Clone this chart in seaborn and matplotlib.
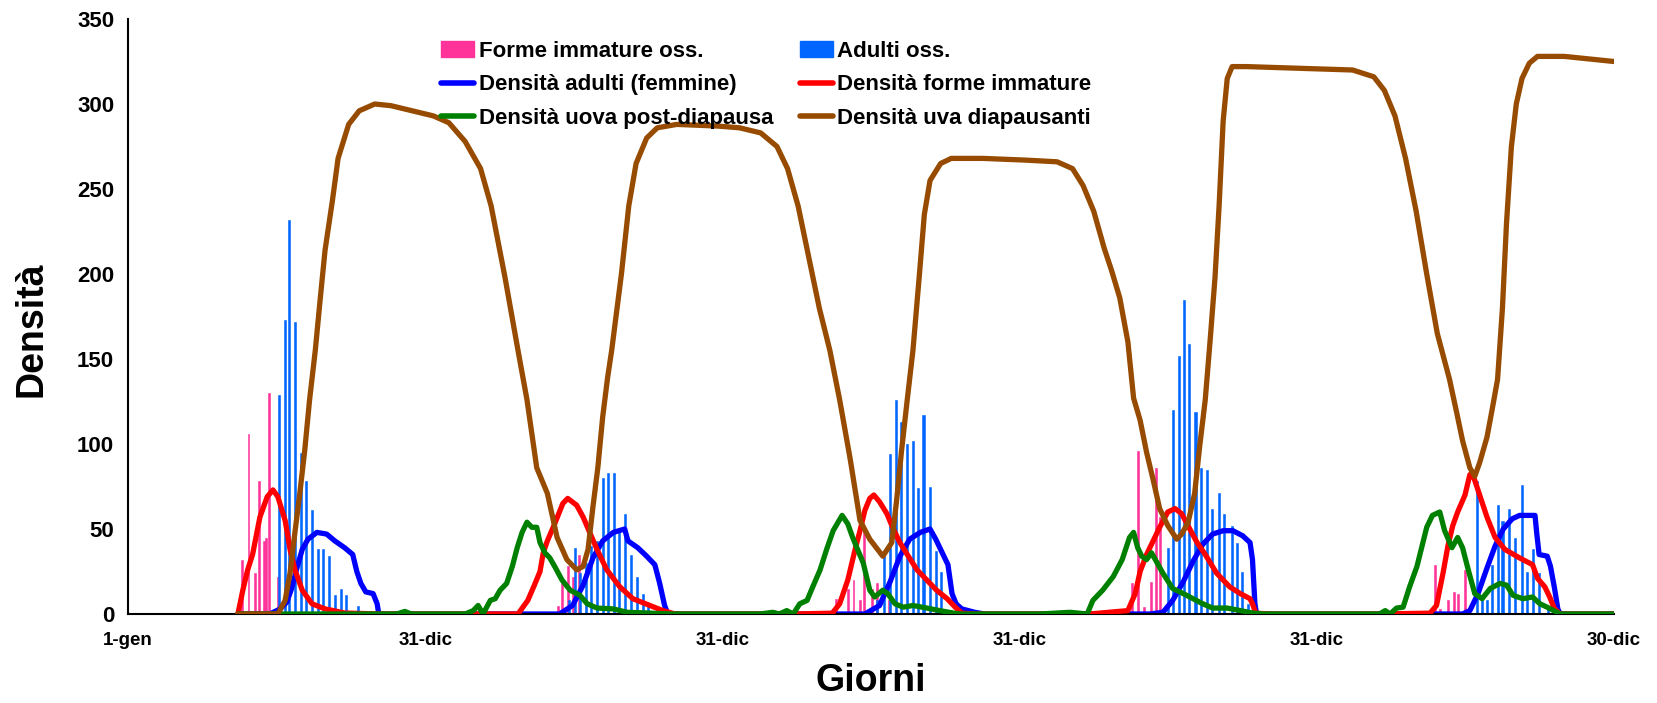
import numpy as np
import pandas as pd
import matplotlib
matplotlib.use('Agg')
import matplotlib.pyplot as plt
import matplotlib.patches as mpatches
from matplotlib.lines import Line2D
from matplotlib import font_manager
import seaborn as sns

# ---- data (day index from 1-gen of year 1, value) ----
pink_bars = [(135, 5), (140, 32), (148, 106), (156, 24), (161, 78), (167, 43), (169, 45), (173, 130), (184, 22),
             (528, 5), (533, 18), (540, 28), (546, 22), (554, 35),
             (869, 9), (884, 15), (891, 20), (899, 8), (904, 49), (914, 15), (920, 18), (934, 8),
             (1233, 18), (1240, 96), (1248, 4), (1256, 19), (1262, 86), (1267, 57),
             (1605, 29), (1611, 3), (1621, 8), (1628, 13), (1633, 12), (1642, 26)]

blue_bars = [(185, 129), (193, 173), (198, 232), (205, 172), (212, 95), (219, 78), (226, 61), (233, 38),
             (240, 38), (247, 34), (254, 11), (262, 15), (268, 11), (282, 5),
             (542, 8), (549, 39), (555, 24), (562, 30), (569, 40), (576, 43), (583, 80), (589, 83),
             (597, 83), (603, 50), (610, 59), (618, 35), (625, 22), (632, 12), (639, 5),
             (920, 8), (928, 34), (936, 94), (943, 126), (949, 113), (957, 100), (964, 102), (970, 74),
             (977, 117), (985, 75), (992, 37), (998, 25),
             (1277, 39), (1283, 120), (1291, 152), (1297, 185), (1303, 159), (1311, 119), (1318, 86),
             (1325, 85), (1331, 62), (1340, 71), (1346, 59), (1356, 52), (1362, 42), (1368, 25), (1375, 6),
             (1657, 78), (1663, 10), (1669, 8), (1675, 29), (1682, 64), (1688, 55), (1696, 62), (1703, 45),
             (1712, 76), (1718, 25), (1725, 38), (1733, 24), (1744, 5)]

adulti = [(135, 0), (174, 0), (187, 3), (195, 7), (201, 15), (208, 28), (214, 38), (221, 44), (232, 48),
          (244, 47), (254, 43), (266, 39), (276, 35), (281, 25), (286, 18), (292, 13), (301, 12), (306, 6),
          (308, 0), (530, 0), (546, 5), (559, 17), (571, 33), (583, 43), (596, 48), (610, 50), (614, 43),
          (626, 39), (637, 34), (647, 29), (653, 18), (659, 5), (663, 0), (905, 0), (923, 5), (936, 19),
          (948, 34), (960, 44), (973, 48), (985, 50), (992, 44), (1001, 35), (1007, 29), (1012, 12),
          (1017, 6), (1024, 3), (1040, 1), (1052, 0), (1255, 0), (1271, 1), (1283, 8), (1296, 19),
          (1308, 31), (1320, 41), (1332, 47), (1345, 49), (1357, 49), (1369, 46), (1378, 42), (1381, 32),
          (1384, 6), (1386, 0), (1639, 0), (1648, 2), (1658, 12), (1669, 27), (1679, 40), (1689, 50),
          (1700, 56), (1709, 58), (1728, 58), (1730, 48), (1733, 35), (1743, 34), (1747, 28), (1752, 15),
          (1756, 3), (1759, 0), (1825, 0)]

immature = [(135, 0), (141, 14), (147, 26), (153, 35), (162, 57), (171, 69), (178, 73), (184, 69), (193, 55),
            (199, 38), (205, 26), (214, 14), (226, 6), (242, 3), (266, 0.6), (309, 0), (479, 0), (491, 8),
            (500, 18), (506, 25), (510, 36), (515, 43), (524, 53), (534, 65), (540, 68), (551, 64), (559, 57),
            (567, 48), (576, 38), (588, 26), (604, 16), (620, 9), (641, 5), (657, 2), (672, 0), (817, 0),
            (865, 0.5), (874, 6), (884, 20), (893, 38), (899, 49), (905, 61), (911, 68), (916, 70), (923, 66),
            (932, 59), (939, 51), (948, 42), (957, 35), (969, 26), (981, 20), (993, 14), (1006, 9),
            (1016, 4), (1024, 0.5), (1040, 0), (1181, 0), (1228, 2), (1237, 12), (1243, 25), (1251, 35),
            (1259, 43), (1267, 51), (1277, 60), (1286, 62), (1294, 59), (1304, 50), (1313, 42), (1323, 35),
            (1337, 24), (1353, 16), (1366, 12), (1378, 9), (1381, 6), (1385, 0.5), (1402, 0), (1534, 0),
            (1599, 0.5), (1607, 5), (1615, 24), (1621, 40), (1627, 52), (1633, 60), (1642, 70), (1648, 82),
            (1653, 80), (1660, 70), (1669, 57), (1679, 45), (1691, 38), (1709, 33), (1725, 29), (1731, 21),
            (1740, 16), (1746, 10), (1752, 3), (1759, 0), (1825, 0)]

uova = [(135, 0), (330, 0), (340, 1.5), (348, 0), (383, 0), (414, 0), (424, 2), (430, 5), (436, 0), (445, 8),
        (451, 9), (457, 14), (465, 18), (472, 28), (478, 39), (484, 48), (490, 54), (496, 51), (502, 51),
        (506, 42), (512, 36), (518, 33), (524, 28), (533, 20), (543, 14), (555, 11), (564, 6), (576, 3.5),
        (596, 3), (613, 1), (637, 0.6), (669, 0), (776, 0), (792, 1), (800, 0), (809, 2), (817, 0),
        (825, 6), (834, 8), (841, 16), (850, 26), (858, 38), (866, 49), (877, 58), (884, 53), (890, 45),
        (896, 38), (903, 30), (911, 14), (917, 10), (927, 14), (933, 12), (942, 6), (952, 4), (964, 5),
        (981, 3.5), (997, 2), (1013, 0.6), (1022, 0), (1120, 0), (1157, 1), (1178, 0), (1185, 8),
        (1197, 14), (1210, 22), (1221, 32), (1230, 45), (1235, 48), (1240, 39), (1245, 34), (1251, 32),
        (1257, 36), (1264, 30), (1271, 24), (1283, 15), (1296, 12), (1308, 9), (1320, 6), (1332, 3.5),
        (1350, 3.5), (1366, 2), (1381, 0.6), (1395, 0), (1537, 0), (1544, 2), (1550, 0), (1558, 3.5),
        (1566, 4), (1574, 16), (1583, 28), (1595, 51), (1602, 58), (1611, 60), (1617, 49), (1626, 39),
        (1633, 45), (1639, 39), (1646, 26), (1654, 12), (1663, 9), (1673, 15), (1685, 18), (1693, 17),
        (1701, 11), (1713, 9), (1725, 10), (1734, 6), (1743, 4), (1759, 0), (1825, 0)]

diapausanti = [(135, 0), (184, 0), (193, 8), (199, 24), (205, 48), (211, 71), (217, 96), (223, 126), (230, 155),
               (236, 185), (242, 214), (251, 243), (258, 268), (271, 288), (284, 296), (303, 300), (323, 299),
               (349, 296), (375, 293), (394, 289), (414, 278), (433, 262), (446, 240), (463, 198), (479, 155),
               (490, 126), (502, 86), (515, 71), (527, 45), (539, 32), (551, 26), (559, 28), (565, 38),
               (571, 63), (577, 86), (583, 116), (589, 139), (594, 155), (606, 200), (615, 240), (624, 265),
               (637, 280), (650, 286), (674, 288), (725, 287), (751, 286), (777, 283), (797, 275), (810, 262),
               (823, 240), (836, 210), (849, 180), (862, 155), (874, 126), (887, 91), (899, 55), (911, 44),
               (927, 34), (938, 42), (944, 67), (950, 96), (957, 126), (964, 155), (972, 200), (978, 235),
               (985, 255), (998, 265), (1011, 268), (1050, 268), (1102, 267), (1141, 266), (1160, 262),
               (1173, 252), (1186, 237), (1199, 215), (1208, 202), (1218, 186), (1228, 160), (1235, 127),
               (1243, 114), (1251, 95), (1259, 79), (1267, 62), (1277, 52), (1288, 44), (1294, 47), (1302, 54),
               (1310, 71), (1316, 98), (1323, 126), (1329, 161), (1335, 198), (1340, 240), (1345, 290),
               (1350, 315), (1356, 322), (1374, 322), (1439, 321), (1504, 320), (1530, 316), (1543, 308),
               (1556, 293), (1569, 268), (1582, 237), (1595, 200), (1608, 165), (1623, 138), (1632, 118),
               (1639, 102), (1648, 86), (1654, 81), (1660, 89), (1669, 104), (1676, 122), (1682, 138),
               (1688, 180), (1693, 230), (1699, 275), (1705, 300), (1712, 315), (1721, 324), (1731, 328),
               (1764, 328), (1825, 325)]

xtick_labels = ['1-gen', '31-dic', '31-dic', '31-dic', '31-dic', '30-dic']

# ---- style ----
sns.set_style('white')
names = {f.name for f in font_manager.fontManager.ttflist}
fam = 'Liberation Sans Narrow' if 'Liberation Sans Narrow' in names else 'Liberation Sans'
plt.rcParams['font.family'] = [fam, 'DejaVu Sans']
plt.rcParams['font.weight'] = 'bold'
for k in ['text.color', 'axes.labelcolor', 'xtick.color', 'ytick.color']:
    plt.rcParams[k] = 'black'

fig = plt.figure(figsize=(16.57, 7.03), dpi=100)
ax = fig.add_axes([128 / 1657, 1 - 614 / 703, (1614 - 128) / 1657, (614 - 19) / 703])

pk = pd.DataFrame(pink_bars, columns=['day', 'val'])
bl = pd.DataFrame(blue_bars, columns=['day', 'val'])
ax.bar(pk['day'], pk['val'], width=2.3, color='#ff3399', edgecolor='#ff3399', linewidth=0.4, zorder=1)
ax.bar(bl['day'], bl['val'], width=2.6, color='#0066ff', edgecolor='#0066ff', linewidth=0.4, zorder=1)

series = [(adulti, '#0000ff'), (immature, '#ff0000'), (uova, '#008000'), (diapausanti, '#964b00')]
for i, (s, c) in enumerate(series):
    d = pd.DataFrame(s, columns=['day', 'val'])
    sns.lineplot(x='day', y='val', data=d, color=c, linewidth=3.8, ax=ax, legend=False,
                 zorder=2 + i, estimator=None, sort=False)

ax.set_xlim(0, 1825)
ax.set_ylim(0, 350)
ax.set_xticks(np.arange(0, 1826, 365))
ax.set_xticklabels(xtick_labels)
ax.set_xticks(np.arange(0, 1826, 73), minor=True)
ax.set_yticks(np.arange(0, 351, 50))
ax.tick_params(axis='x', which='both', direction='out', length=7, width=1.5, labelsize=13.5, pad=6)
ax.tick_params(axis='y', direction='out', length=6, width=1.5, labelsize=16, pad=4)
for lab in ax.get_xticklabels() + ax.get_yticklabels():
    lab.set_fontweight('bold')
for sp in ['top', 'right']:
    ax.spines[sp].set_visible(False)
for sp in ['left', 'bottom']:
    ax.spines[sp].set_color('black')
    ax.spines[sp].set_linewidth(1.5)

ax.set_xlabel('Giorni', fontsize=27, fontweight='bold', labelpad=10)
ax.set_ylabel('Densità', fontsize=27, fontweight='bold')
ax.yaxis.set_label_coords(-0.053, 0.478)

handles = [mpatches.Patch(color='#ff3399', label='Forme immature oss.'),
           Line2D([], [], color='#0000ff', lw=4, label='Densità adulti (femmine)'),
           Line2D([], [], color='#008000', lw=4, label='Densità uova post-diapausa'),
           mpatches.Patch(color='#0066ff', label='Adulti oss.'),
           Line2D([], [], color='#ff0000', lw=4, label='Densità forme immature'),
           Line2D([], [], color='#964b00', lw=4, label='Densità uva diapausanti')]
leg = ax.legend(handles=handles, ncol=2, loc='upper left', bbox_to_anchor=(0.197, 0.997), frameon=False,
                prop={'weight': 'bold', 'size': 16}, handlelength=1.5, handletextpad=0.2,
                columnspacing=1.2, labelspacing=0.57, borderaxespad=0.5)

fig.savefig('out.png', dpi=100)
